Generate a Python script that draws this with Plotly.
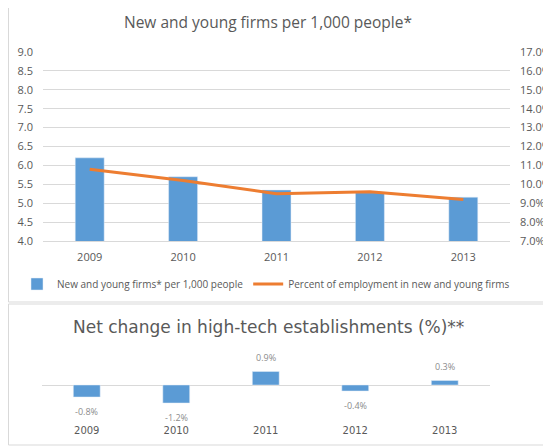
import plotly.graph_objects as go

years = ["2009", "2010", "2011", "2012", "2013"]
firms_per_1000 = [6.2, 5.7, 5.35, 5.28, 5.16]
pct_employment = [0.108, 0.102, 0.095, 0.096, 0.092]
net_change = [-0.8, -1.2, 0.9, -0.4, 0.3]
net_labels = ["-0.8%", "-1.2%", "0.9%", "-0.4%", "0.3%"]

# the page body adds an 8px margin, so the figure is 8px smaller and
# every position below is given in window pixels and shifted back
OFF = 8
W, H = 551 - OFF, 446 - OFF
GREY = "#595959"
GRID = "#d9d9d9"
BLUE = "#5b9bd5"
ORANGE = "#ed7d31"
FONT = "Open Sans"


def px_x(p):
    return (p - OFF) / W


def px_y(p):
    # window pixel from top -> paper fraction from bottom
    return (H - (p - OFF)) / H


fig = go.Figure()

# top panel: bars + line on secondary axis
fig.add_trace(go.Bar(
    x=years, y=firms_per_1000, name="New and young firms* per 1,000 people",
    marker=dict(color=BLUE), width=0.31, xaxis="x", yaxis="y",
))
fig.add_trace(go.Scatter(
    x=years, y=pct_employment, name="Percent of employment in new and young firms",
    mode="lines", line=dict(color=ORANGE, width=3), xaxis="x", yaxis="y2",
))

# bottom panel: net change bars
fig.add_trace(go.Bar(
    x=years, y=net_change, marker=dict(color=BLUE), width=0.3,
    xaxis="x3", yaxis="y3", showlegend=False,
))

# data labels for the bottom bars (category index as x)
for i, (v, lab) in enumerate(zip(net_change, net_labels)):
    fig.add_annotation(
        x=i, y=v, xref="x3", yref="y3", text=lab, showarrow=False,
        xanchor="center", yanchor="middle",
        yshift=14 if v > 0 else -14, font=dict(family=FONT, size=9, color="#8c8c8c"),
    )

fig.add_annotation(
    text="New and young firms per 1,000 people*", xref="paper", yref="paper",
    x=px_x(268), y=px_y(22), showarrow=False, xanchor="center", yanchor="middle",
    font=dict(family=FONT, size=15.5, color=GREY),
)
fig.add_annotation(
    text="Net change in high-tech establishments (%)**", xref="paper", yref="paper",
    x=px_x(268), y=px_y(327), showarrow=False, xanchor="center", yanchor="middle",
    font=dict(family="DejaVu Sans", size=17, color=GREY),
)

fig.update_layout(
    width=W, height=H,
    margin=dict(l=0, r=0, t=0, b=0, autoexpand=False),
    paper_bgcolor="white", plot_bgcolor="white",
    font=dict(family=FONT, size=11, color=GREY),
    showlegend=True,
    legend=dict(
        orientation="h", x=px_x(266), xanchor="center", y=px_y(284), yanchor="middle",
        font=dict(family=FONT, size=10, color=GREY), itemwidth=30,
        bgcolor="rgba(0,0,0,0)",
    ),
    xaxis=dict(
        type="category", domain=[px_x(43), px_x(510)], anchor="y", range=[-0.5, 4.5],
        showgrid=False, showline=True, linecolor=GRID, ticks="", ticklabelstandoff=6,
        tickfont=dict(size=11, color=GREY),
    ),
    yaxis=dict(
        domain=[px_y(241), px_y(52)], anchor="x", range=[4, 9], dtick=0.5,
        tickformat=".1f", gridcolor=GRID, zeroline=False, ticks="", ticklabelstandoff=9,
        tickfont=dict(size=11, color=GREY),
    ),
    yaxis2=dict(
        overlaying="y", side="right", anchor="x", range=[0.07, 0.17], dtick=0.01,
        tickformat=".1%", showgrid=False, zeroline=False, ticks="",
        ticklabelstandoff=9, tickfont=dict(size=11, color=GREY),
    ),
    xaxis3=dict(
        type="category", domain=[px_x(42), px_x(489.5)], anchor="y3", range=[-0.5, 4.5],
        showgrid=False, showline=False, ticks="", ticklabelstandoff=1,
        tickfont=dict(family="DejaVu Sans", size=10, color=GREY),
    ),
    yaxis3=dict(
        domain=[px_y(422), px_y(360)], anchor="x3", range=[-37 / 15, 25 / 15],
        showgrid=False, showticklabels=False, zeroline=True,
        zerolinecolor=GRID, zerolinewidth=1,
    ),
    shapes=[
        dict(type="rect", xref="paper", yref="paper", x0=px_x(8.5), x1=px_x(553),
             y0=px_y(302), y1=px_y(3), line=dict(color=GRID, width=1)),
        dict(type="rect", xref="paper", yref="paper", x0=px_x(8.5), x1=px_x(553),
             y0=px_y(445), y1=px_y(304), line=dict(color=GRID, width=1)),
    ],
)

fig.write_html("out.html")
